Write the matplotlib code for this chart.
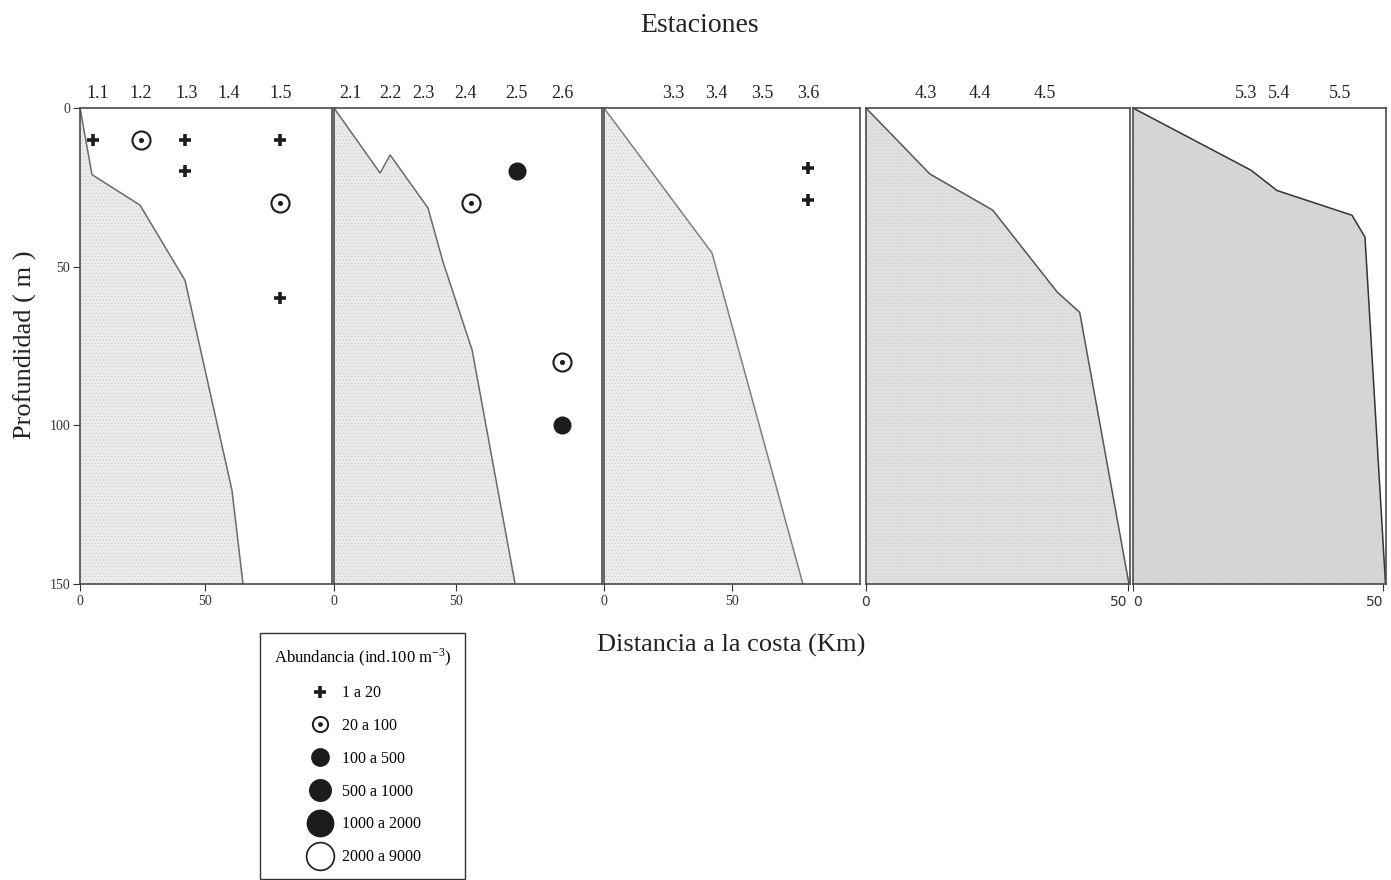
import matplotlib.pyplot as plt
from matplotlib.lines import Line2D
from matplotlib.legend_handler import HandlerTuple

plt.rcParams['font.family'] = ['Liberation Serif', 'DejaVu Serif']
plt.rcParams['mathtext.fontset'] = 'stix'
plt.rcParams['hatch.linewidth'] = 0.6

# Station names along the top of each transect and their distance to the coast (km)
station_labels = [
    ['1.1', '1.2', '1.3', '1.4', '1.5'],
    ['2.1', '2.2', '2.3', '2.4', '2.5', '2.6'],
    ['3.3', '3.4', '3.5', '3.6'],
    ['4.3', '4.4', '4.5'],
    ['5.3', '5.4', '5.5'],
]
station_km = [
    [7, 24.4, 42.8, 59.6, 80.4],
    [6.6, 23, 36.5, 54, 74.6, 93.4],
    [27, 44, 62, 79.7],
    [11.5, 21.8, 34.2],
    [22.6, 29.2, 41.5],
]

# Bottom profile (sea floor) of each transect
bottom_km = [
    [0, 4.8, 24, 42, 60.8, 65.2],
    [0, 18.9, 23, 38.5, 44.7, 56.6, 74.2],
    [0, 42.2, 77.7],
    [0, 12.2, 24.2, 36.5, 40.8, 50.2],
    [0, 23.6, 28.8, 43.8, 46.4, 50.5],
]
bottom_depth = [
    [0, 21, 30.6, 54.3, 120.5, 150],
    [0, 20.5, 14.8, 31.5, 48.6, 76.3, 150],
    [0, 45.7, 150],
    [0, 20.8, 32.2, 58, 64.4, 150],
    [0, 19.6, 26, 33.8, 40.7, 150],
]
xmax_km = [100.8, 109.8, 100, 50.4, 50.6]

# Samples: transect index, distance (km), depth (m), abundance class
sample_transect = [0, 0, 0, 0, 0, 0, 0, 1, 1, 1, 1, 2, 2]
sample_km = [5.2, 24.4, 42, 42, 80, 80, 80, 75, 56, 93.4, 93.4, 79.7, 79.7]
sample_depth = [10, 10, 10, 20, 10, 30, 60, 20, 30, 80, 100, 19, 29]
sample_class = [0, 1, 0, 0, 0, 1, 0, 2, 1, 1, 2, 0, 0]

class_labels = ['1 a 20', '20 a 100', '100 a 500', '500 a 1000', '1000 a 2000', '2000 a 9000']

ink = '#1c1c1c'
fill_colors = ['#ececec', '#ebebeb', '#ededed', '#e0e0e0', '#d6d6d6']
line_colors = ['#6a6a6a', '#6a6a6a', '#808080', '#555555', '#333333']

# Axes boxes in pixels (left, right) on a 1391 x 880 canvas
W, H = 1391, 880
panel_px = [(80, 332), (334, 602), (604, 860), (866, 1130), (1133, 1386)]
top_px, bottom_px = 108, 584

fig = plt.figure(figsize=(13.91, 8.8), dpi=100)

axes = []
for i, (l, r) in enumerate(panel_px):
    ax = fig.add_axes([l / W, 1 - bottom_px / H, (r - l) / W, (bottom_px - top_px) / H])
    axes.append(ax)
    ax.fill_betweenx(bottom_depth[i], 0, bottom_km[i], facecolor=fill_colors[i],
                     hatch='.....', edgecolor='#d2d2d2', linewidth=0)
    ax.plot(bottom_km[i], bottom_depth[i], color=line_colors[i], lw=1.1)
    ax.set_xlim(0, xmax_km[i])
    ax.set_ylim(150, 0)
    for s in ax.spines.values():
        s.set_color('#4a4a4a')
        s.set_linewidth(1.2)

    for lab, km in zip(station_labels[i], station_km[i]):
        ax.text(km, 1.012, lab, transform=ax.get_xaxis_transform(),
                ha='center', va='bottom', fontsize=13, color='#222222')

    ax.set_xticks([0, 50])
    if i >= 3:
        ticklabs = ax.set_xticklabels(['0', '50'], family='DejaVu Sans', fontsize=10)
        ticklabs[1].set_ha('right')
        if i == 4:
            ticklabs[0].set_ha('left')
    else:
        ax.set_xticklabels(['0', '50'], fontsize=10)
    ax.tick_params(axis='x', direction='out', length=5, width=0.8, pad=3, colors='#333333')
    if i == 0:
        ax.set_yticks([0, 50, 100, 150])
        ax.tick_params(axis='y', direction='out', length=5, width=0.8, labelsize=10, pad=2,
                       colors='#333333')
    else:
        ax.set_yticks([])

# Sample markers by abundance class
for t, km, d, c in zip(sample_transect, sample_km, sample_depth, sample_class):
    ax = axes[t]
    if c == 0:
        ax.plot(km, d, marker='+', ms=9, mew=2.6, color=ink, zorder=5)
    elif c == 1:
        ax.plot(km, d, marker='o', ms=13, mew=1.5, mfc='white', mec=ink, zorder=5)
        ax.plot(km, d, marker='o', ms=2.6, color=ink, zorder=6)
    else:
        ax.plot(km, d, marker='o', ms=12, color=ink, zorder=5)

fig.text(700 / W, 1 - 25 / H, 'Estaciones', ha='center', va='center', fontsize=20, color='#222222')
fig.text(731 / W, 1 - 645 / H, 'Distancia a la costa (Km)', ha='center', va='center',
         fontsize=19, color='#222222')
fig.text(25 / W, 1 - 345 / H, 'Profundidad ( m )', ha='center', va='center', rotation=90,
         fontsize=19, color='#222222')

# Legend
handles = [
    Line2D([], [], ls='', marker='+', ms=8, mew=2.6, color=ink),
    (Line2D([], [], ls='', marker='o', ms=11, mew=1.4, mfc='white', mec=ink),
     Line2D([], [], ls='', marker='o', ms=2.4, color=ink)),
    Line2D([], [], ls='', marker='o', ms=12.5, color=ink),
    Line2D([], [], ls='', marker='o', ms=15.5, color=ink),
    Line2D([], [], ls='', marker='o', ms=19, color=ink),
    Line2D([], [], ls='', marker='o', ms=20, mfc='white', mec=ink, mew=1.2),
]
leg = fig.legend(handles, class_labels, loc='upper left',
                 bbox_to_anchor=(260 / W, 1 - 633 / H), bbox_transform=fig.transFigure,
                 borderaxespad=0, fancybox=False, framealpha=1, edgecolor='#333333',
                 title='Abundancia (ind.100 m$^{\\mathregular{-3}}$)', title_fontsize=12,
                 fontsize=11.5, labelspacing=1.05, handlelength=2, handletextpad=0.4,
                 borderpad=0.85, handler_map={tuple: HandlerTuple(ndivide=1)})
leg.get_frame().set_linewidth(1.0)

fig.savefig('out.png', dpi=100)
